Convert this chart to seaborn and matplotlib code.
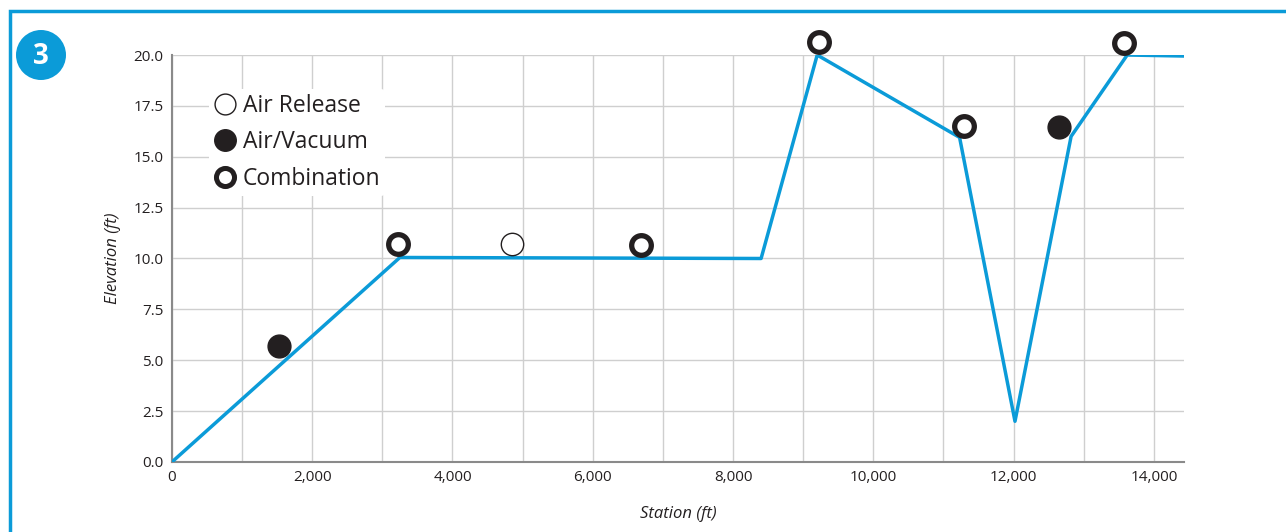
import matplotlib
matplotlib.use("Agg")
import matplotlib.pyplot as plt
from matplotlib.lines import Line2D
from matplotlib.patches import Rectangle, Ellipse
from matplotlib.ticker import FuncFormatter, MultipleLocator
import pandas as pd
import seaborn as sns

# Pipeline profile
station = [0, 3250, 8400, 9200, 11230, 12020, 12820, 13620, 14430]
elevation = [0, 10.05, 10.0, 20.0, 15.95, 2.0, 16.0, 20.0, 19.95]

# Valves
valve_station = [1530, 12650, 4850, 3230, 6690, 9230, 11300, 13580]
valve_elev = [5.7, 16.45, 10.7, 10.7, 10.65, 20.65, 16.5, 20.6]
valve_type = ["Air/Vacuum", "Air/Vacuum", "Air Release",
              "Combination", "Combination", "Combination", "Combination", "Combination"]

BLUE = "#0b9bd8"
DARK = "#231f20"

sns.set_style("white")
plt.rcParams["font.family"] = ["Open Sans", "DejaVu Sans"]

profile = pd.DataFrame({"station": station, "elevation": elevation})
valves = pd.DataFrame({"station": valve_station, "elevation": valve_elev, "type": valve_type})

fig = plt.figure(figsize=(12.86, 5.32), dpi=100)
ax = fig.add_axes([0.1337, 0.1316, 0.787, 0.765])

sns.lineplot(data=profile, x="station", y="elevation", color=BLUE, linewidth=2.5, ax=ax, zorder=3)

styles = {
    "Air Release": dict(s=260, facecolor="white", edgecolor=DARK, linewidth=1.0),
    "Air/Vacuum": dict(s=270, facecolor=DARK, edgecolor=DARK, linewidth=1.0),
    "Combination": dict(s=200, facecolor="white", edgecolor=DARK, linewidth=3.8),
}
for t, st in styles.items():
    sub = valves[valves["type"] == t]
    sns.scatterplot(data=sub, x="station", y="elevation", marker="o", ax=ax,
                    zorder=4, clip_on=False, legend=False, **st)

ax.set_xlim(0, 14430)
ax.set_ylim(0, 20)
ax.xaxis.set_major_locator(MultipleLocator(2000))
ax.xaxis.set_minor_locator(MultipleLocator(1000))
ax.yaxis.set_major_locator(MultipleLocator(2.5))
ax.xaxis.set_major_formatter(FuncFormatter(lambda v, p: f"{int(v):,}"))
ax.yaxis.set_major_formatter(FuncFormatter(lambda v, p: f"{v:.1f}"))
ax.grid(True, which="both", color="#cfcfcf", linewidth=1.0)
ax.set_axisbelow(True)
for s in ["top", "right"]:
    ax.spines[s].set_visible(False)
for s in ["left", "bottom"]:
    ax.spines[s].set_color("#8a8a8a")
    ax.spines[s].set_linewidth(1.5)
ax.tick_params(axis="both", length=0, labelsize=11, colors=DARK, pad=6)
ax.set_xlabel("Station (ft)", fontstyle="italic", fontsize=12, color=DARK, labelpad=15)
ax.set_ylabel("Elevation (ft)", fontstyle="italic", fontsize=12, color=DARK, labelpad=9)

handles = [
    Line2D([], [], ls="", marker="o", markersize=15, markerfacecolor="white",
           markeredgecolor=DARK, markeredgewidth=1.0, label="Air Release"),
    Line2D([], [], ls="", marker="o", markersize=15.5, markerfacecolor=DARK,
           markeredgecolor=DARK, label="Air/Vacuum"),
    Line2D([], [], ls="", marker="o", markersize=13, markerfacecolor="white",
           markeredgecolor=DARK, markeredgewidth=3.6, label="Combination"),
]
leg = ax.legend(handles=handles, loc="upper left", bbox_to_anchor=(0.025, 0.944),
                frameon=True, fontsize=16.5, handletextpad=0.3, labelspacing=0.55,
                borderpad=0.2, handlelength=1.0)
leg.get_frame().set_facecolor("white")
leg.get_frame().set_edgecolor("none")
leg.get_frame().set_alpha(1)
for txt in leg.get_texts():
    txt.set_color(DARK)

# figure frame and badge
fig.patches.append(Rectangle((10 / 1286, -0.05), 1.1, 1 - 11 / 532 + 0.05, transform=fig.transFigure,
                             fill=False, edgecolor=BLUE, linewidth=2.5))
fig.patches.append(Ellipse((41 / 1286, 1 - 55 / 532), 50 / 1286, 50 / 532, transform=fig.transFigure,
                           facecolor=BLUE, edgecolor="none"))
fig.text(41 / 1286, 1 - 56 / 532, "3", ha="center", va="center", color="white",
         fontsize=20, fontweight="bold")

fig.savefig("out.png", dpi=100)
